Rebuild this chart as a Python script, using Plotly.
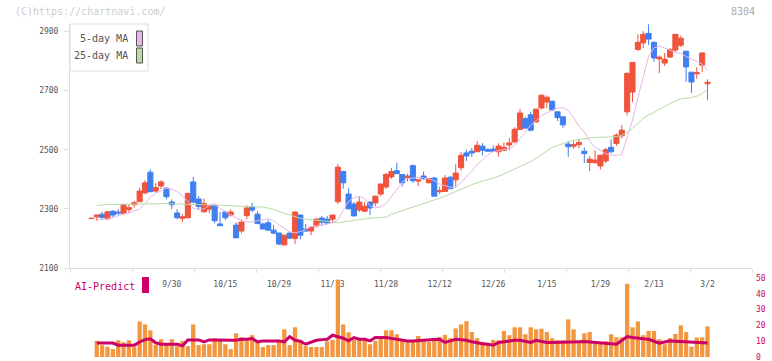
import plotly.graph_objects as go

# ---------------- data ----------------
dates = list(range(116))  # trading-day index (first candle = 0)
date_label_pos = [15, 25, 35, 45, 55, 65, 75, 85, 95, 105, 115]
date_labels = ["9/30", "10/15", "10/29", "11/13", "11/28", "12/12", "12/26", "1/15", "1/29", "2/13", "3/2"]

open_ = [2267,2273,2282,2266,2292,2289,2285,2298,2314,2324,2354,2424,2360,2377,2370,2323,2286,2268,2270,2391,
         2333,2290,2299,2311,2249,2289,2279,2245,2225,2277,2306,2282,2249,2253,2228,2218,2178,2218,2200,2279,
         2232,2225,2242,2269,2265,2265,2324,2426,2350,2316,2296,2292,2323,2320,2350,2374,2408,2429,2416,2405,
         2446,2394,2411,2388,2404,2358,2359,2407,2398,2439,2489,2495,2493,2512,2500,2502,2493,2498,2516,2526,
         2569,2605,2618,2594,2641,2661,2664,2628,2611,2519,2512,2517,2495,2457,2456,2445,2462,2508,2521,2547,
         2628,2695,2839,2861,2893,2863,2807,2793,2813,2837,2853,2833,2762,2757,2786,2723]
high = [2269,2280,2290,2293,2295,2299,2318,2317,2327,2372,2397,2434,2387,2397,2372,2332,2299,2282,2355,2408,
        2343,2335,2312,2313,2290,2293,2298,2255,2264,2312,2321,2292,2253,2264,2245,2219,2212,2223,2292,2280,
        2249,2242,2269,2276,2276,2280,2451,2429,2370,2323,2340,2323,2325,2344,2385,2422,2439,2456,2417,2419,
        2450,2399,2426,2405,2408,2374,2414,2411,2451,2492,2500,2506,2529,2522,2506,2515,2521,2525,2539,2576,
        2638,2611,2628,2640,2687,2684,2665,2629,2612,2529,2529,2536,2508,2478,2498,2484,2506,2535,2555,2583,
        2762,2796,2890,2901,2924,2866,2819,2827,2843,2891,2886,2834,2763,2779,2830,2738]
low = [2266,2260,2264,2263,2272,2279,2281,2285,2304,2324,2349,2356,2355,2367,2332,2299,2264,2256,2268,2319,
       2296,2287,2285,2251,2242,2262,2274,2201,2217,2264,2289,2249,2231,2227,2214,2178,2177,2197,2181,2197,
       2222,2211,2238,2242,2251,2252,2316,2368,2299,2275,2289,2289,2279,2309,2343,2367,2402,2418,2375,2392,
       2388,2377,2398,2387,2341,2350,2358,2367,2375,2429,2462,2476,2492,2481,2493,2493,2476,2495,2498,2524,
       2566,2572,2562,2591,2637,2640,2633,2597,2574,2476,2503,2505,2455,2428,2453,2433,2455,2487,2513,2538,
       2616,2661,2834,2844,2854,2797,2759,2783,2810,2830,2847,2729,2692,2739,2763,2667]
close = [2268,2279,2271,2290,2279,2286,2313,2304,2321,2360,2388,2358,2372,2391,2341,2314,2270,2273,2352,2323,
         2308,2318,2311,2260,2243,2270,2289,2202,2255,2303,2296,2250,2232,2228,2218,2181,2211,2201,2289,2211,
         2225,2238,2265,2255,2252,2279,2441,2388,2300,2276,2323,2309,2303,2343,2384,2416,2426,2419,2388,2411,
         2395,2398,2402,2402,2343,2361,2404,2368,2421,2481,2479,2489,2515,2498,2495,2495,2512,2508,2523,2569,
         2624,2573,2566,2637,2684,2677,2634,2609,2584,2510,2517,2525,2487,2468,2465,2481,2500,2493,2549,2566,
         2758,2795,2863,2890,2874,2810,2813,2806,2839,2890,2877,2780,2729,2760,2827,2728]

ma5 = [None,2262,2264,2266,2271,2277,2282,2286,2292,2300,2318,2340,2352,2362,2370,2366,2358,2344,2325,2302,
       2298,2300,2312,2318,2302,2290,2280,2270,2260,2256,2256,2260,2262,2267,2260,2246,2233,2222,2219,2223,
       2230,2240,2243,2245,2248,2253,2262,2295,2325,2338,2342,2335,2310,2303,2307,2318,2341,2367,2390,2402,
       2405,2406,2405,2401,2396,2384,2378,2373,2372,2390,2408,2427,2450,2468,2483,2494,2498,2501,2504,2514,
       2536,2560,2583,2598,2614,2625,2633,2641,2642,2632,2609,2580,2560,2530,2509,2496,2486,2481,2481,2484,
       2540,2600,2675,2750,2815,2845,2850,2844,2836,2829,2826,2815,2807,2798,2790,2766]
ma25 = [None,2311,2314,2315,2315,2315,2315,2315,2315,2315,2315,2316,2317,2318,2318,2318,2318,2316,2315,2315,
        2314,2313,2313,2313,2312,2312,2311,2310,2308,2307,2307,2307,2306,2302,2298,2291,2285,2279,2273,2268,
        2265,2262,2261,2260,2257,2254,2253,2256,2259,2262,2264,2266,2268,2269,2270,2272,2282,2288,2293,2299,
        2305,2310,2316,2322,2329,2336,2343,2351,2358,2366,2375,2382,2388,2393,2398,2404,2410,2418,2426,2434,
        2442,2451,2460,2471,2484,2496,2508,2514,2520,2526,2532,2535,2538,2541,2542,2542,2543,2543,2544,2549,
        2558,2572,2590,2606,2618,2626,2637,2646,2657,2665,2672,2674,2676,2681,2690,2703]

volume = [None,10.2,7.5,6.5,5.0,10.6,9.4,10.6,6.5,22.5,20.6,16.9,7.7,11.3,7.7,11.3,6.9,10.2,6.9,20.6,
          7.5,8.1,8.1,11.9,10.6,8.1,5.0,15.0,12.5,11.7,13.8,10.2,6.3,7.5,7.5,10.2,17.5,7.5,18.8,10.0,
          6.9,6.3,6.3,6.3,10.0,10.8,49.0,20.6,15.6,11.0,11.7,10.8,8.1,10.2,12.7,16.9,16.9,14.4,10.2,9.6,
          10.2,13.3,11.3,9.6,11.3,12.7,14.0,11.9,18.1,20.6,22.7,15.8,11.9,9.6,8.5,10.8,10.6,16.5,13.8,18.8,
          18.8,14.4,18.8,17.5,17.9,15.8,11.9,10.6,10.6,23.8,17.5,10.6,15.0,15.8,10.0,9.6,10.0,14.4,12.5,12.5,
          46.3,18.8,22.5,13.8,16.5,16.5,11.3,8.1,11.9,14.6,20.0,15.8,6.5,12.3,12.5,19.4]
ai_predict = [None,8.8,8.8,8.8,8.8,7.5,7.5,7.5,7.5,9.5,11.0,11.5,9.0,8.1,8.1,8.1,8.1,7.1,10.8,10.8,
              10.8,9.6,10.8,10.8,10.8,10.8,10.8,10.6,11.2,11.2,11.7,9.6,10.2,10.2,10.2,10.2,9.6,12.9,10.6,10.0,
              8.1,9.5,10.6,11.0,11.2,13.8,13.0,11.9,10.2,12.3,11.2,11.2,10.2,12.3,12.3,12.3,11.8,11.2,10.8,10.2,
              10.2,10.5,10.8,10.8,11.0,11.2,9.2,10.2,11.2,10.9,10.6,9.6,8.8,8.4,8.0,7.5,9.2,9.8,10.2,10.6,
              10.6,9.9,9.2,10.6,9.9,9.2,9.2,9.2,9.2,9.2,9.4,9.6,9.8,9.5,9.2,8.9,8.8,8.5,8.1,10.5,
              12.9,12.3,11.7,11.5,11.2,10.0,8.8,9.5,10.2,10.0,9.8,9.7,9.5,9.2,9.0,8.8]

# ---------------- styling ----------------
RED = "#f0543c"
BLUE = "#3f7ff0"
ORANGE = "#f2973f"
MAGENTA = "#cc0066"
PINK = "#e8b6ea"
GREEN = "#b6dca4"
GRID = "#dddddd"
FONT = "DejaVu Sans Mono"

W, H = 772, 361
ML, MR, MT, MB = 70, 20, 24, 4
PW, PH = W - ML - MR, H - MT - MB


def px(xp):
    return (xp - ML) / PW


def py(yp):
    return (H - MB - yp) / PH


main_bottom = py(268)
low_top = py(278)

fig = go.Figure()

fig.add_trace(go.Candlestick(
    x=dates, open=open_, high=high, low=low, close=close,
    increasing=dict(line=dict(color=RED, width=1), fillcolor=RED),
    decreasing=dict(line=dict(color=BLUE, width=1), fillcolor=BLUE),
    whiskerwidth=0, xaxis="x", yaxis="y", hoverinfo="skip", showlegend=False,
))
fig.add_trace(go.Scatter(x=dates, y=ma25, mode="lines", line=dict(color=GREEN, width=1),
                         xaxis="x", yaxis="y", hoverinfo="skip", showlegend=False))
fig.add_trace(go.Scatter(x=dates, y=ma5, mode="lines", line=dict(color=PINK, width=1),
                         xaxis="x", yaxis="y", hoverinfo="skip", showlegend=False))

fig.add_trace(go.Bar(x=dates, y=volume, marker=dict(color=ORANGE, line=dict(width=0)),
                     xaxis="x2", yaxis="y2", hoverinfo="skip", showlegend=False))
fig.add_trace(go.Scatter(x=dates, y=ai_predict, mode="lines", line=dict(color=MAGENTA, width=3),
                         xaxis="x2", yaxis="y2", hoverinfo="skip", showlegend=False))

xr = [-4.0, 123.3]
tickpos = [xr[0] + i * (xr[1] - xr[0]) / 11 for i in range(12)]

fig.update_layout(
    width=W, height=H,
    margin=dict(l=ML, r=MR, t=MT, b=MB, pad=0, autoexpand=False),
    paper_bgcolor="white", plot_bgcolor="white",
    font=dict(family=FONT, size=8, color="#555555"),
    boxgap=0.05, boxgroupgap=0.0, bargap=0.2,
    showlegend=False,
    xaxis=dict(domain=[0, 1], range=xr, anchor="y", rangeslider=dict(visible=False), automargin=False,
               showgrid=False, zeroline=False, showline=True, linecolor=GRID, linewidth=1,
               tickmode="array", tickvals=date_label_pos, ticktext=date_labels, ticks="",
               ticklabelstandoff=8, tickfont=dict(family=FONT, size=8, color="#555555"),
               minor=dict(tickmode="array", tickvals=tickpos, ticks="outside", ticklen=4,
                          tickcolor=GRID, showgrid=False)),
    yaxis=dict(domain=[main_bottom, 1], range=[2100, 2925], anchor="x", automargin=False,
               showgrid=False, zeroline=False, showline=True, linecolor=GRID, linewidth=1,
               tickmode="array", tickvals=[2100, 2300, 2500, 2700, 2900],
               ticks="outside", ticklen=5, tickcolor=GRID,
               tickfont=dict(family=FONT, size=8, color="#555555"), ticklabelstandoff=4),
    xaxis2=dict(domain=[0, 1], range=xr, anchor="y2", matches="x", visible=False, automargin=False),
    yaxis2=dict(domain=[0, low_top], range=[0, 50], anchor="x2", side="right", automargin=False,
                showgrid=False, zeroline=False, showline=False, ticks="",
                tickmode="array", tickvals=[0, 10, 20, 30, 40, 50], ticklabeloverflow="allow",
                tickfont=dict(family=FONT, size=8, color=MAGENTA), ticklabelstandoff=3),
)

shapes = [
    # legend box
    dict(type="rect", xref="paper", yref="paper", x0=px(70), x1=px(148), y0=py(71), y1=py(24),
         line=dict(color=GRID, width=1), fillcolor="white", layer="above"),
    dict(type="rect", xref="paper", yref="paper", x0=px(136.5), x1=px(142.5), y0=py(46), y1=py(31),
         line=dict(color="#555555", width=1), fillcolor=PINK, layer="above"),
    dict(type="rect", xref="paper", yref="paper", x0=px(136.5), x1=px(142.5), y0=py(63), y1=py(48),
         line=dict(color="#555555", width=1), fillcolor=GREEN, layer="above"),
    # AI-Predict swatch
    dict(type="rect", xref="paper", yref="paper", x0=px(142), x1=px(149), y0=py(293), y1=py(277),
         line=dict(width=0), fillcolor=MAGENTA, layer="above"),
]

annotations = [
    dict(text="5-day MA", xref="paper", yref="paper", x=px(130), y=py(38.5), xanchor="right", yanchor="middle",
         showarrow=False, font=dict(family=FONT, size=10, color="#555555")),
    dict(text="25-day MA", xref="paper", yref="paper", x=px(130), y=py(55.5), xanchor="right", yanchor="middle",
         showarrow=False, font=dict(family=FONT, size=10, color="#555555")),
    dict(text="AI-Predict", xref="paper", yref="paper", x=px(73), y=py(286), xanchor="left", yanchor="middle",
         showarrow=False, font=dict(family=FONT, size=10, color=MAGENTA)),
    dict(text="(C)https://chartnavi.com/", xref="paper", yref="paper", x=px(13), y=py(12),
         xanchor="left", yanchor="middle", showarrow=False, font=dict(family=FONT, size=10, color="#cccccc")),
    dict(text="8304", xref="paper", yref="paper", x=px(757), y=py(12),
         xanchor="right", yanchor="middle", showarrow=False, font=dict(family=FONT, size=10, color="#aaaaaa")),
]

fig.update_layout(shapes=shapes, annotations=annotations)

fig.write_html("out.html", config={"displayModeBar": False},
               post_script="document.body.style.margin='0';document.body.style.padding='0';")
